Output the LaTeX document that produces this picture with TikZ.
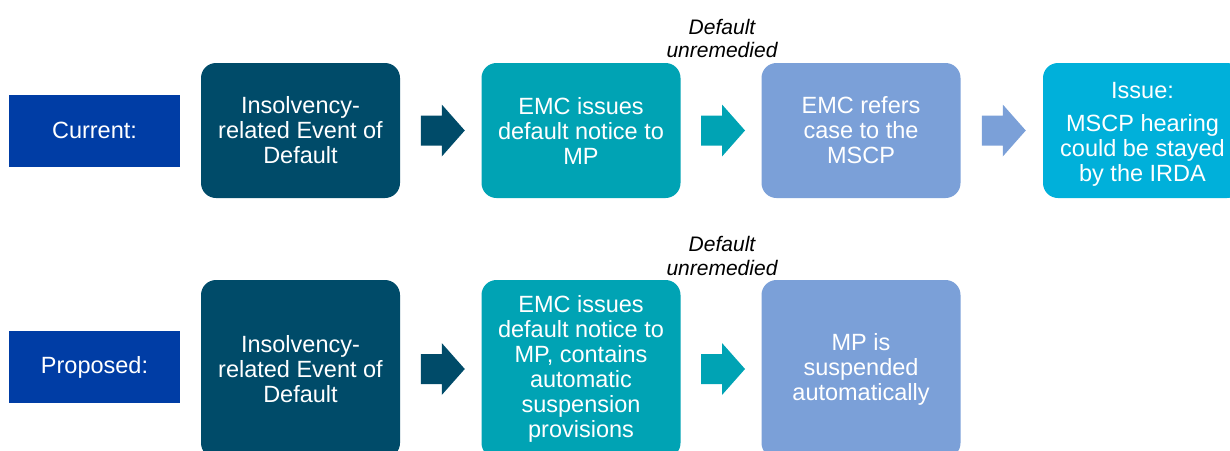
\documentclass[tikz,border=0pt]{standalone}
\usepackage{fontspec}
\setmainfont{Liberation Sans}
\usetikzlibrary{calc}

\definecolor{tagblue}{RGB}{0,61,165}
\definecolor{deepteal}{RGB}{0,75,105}
\definecolor{midteal}{RGB}{0,163,180}
\definecolor{softblue}{RGB}{123,160,216}
\definecolor{skyblue}{RGB}{0,176,218}

\begin{document}
\begin{tikzpicture}[x=1pt, y=1pt,
		box/.style={rounded corners=15pt, minimum width=199pt, inner sep=0pt,
			text=white, align=center, font=\fontsize{23.5}{25}\selectfont},
		tag/.style={minimum width=171pt, minimum height=72pt, inner sep=0pt,
			fill=tagblue, text=white, font=\fontsize{23.5}{25}\selectfont},
		note/.style={align=center, font=\fontsize{21}{23.5}\selectfont\itshape},
		blockarr/.pic={\fill[#1] (-22,-15) -- (-1,-15) -- (-1,-26) -- (22,0)
			-- (-1,26) -- (-1,15) -- (-22,15) -- cycle;}]
	\useasboundingbox (0,0) rectangle (1230,-450);

	\def\rowa{-130.5};
	\def\rowb{-369};

	% current process
	\begin{scope}[box/.append style={minimum height=135pt}]
		\node [tag] (cur) at (94.5,\rowa) {Current:};
		\node [box, fill=deepteal] (cur1) at (300.5,\rowa) {Insolvency-\\related Event of\\Default};
		\node [box, fill=midteal] (cur2) at (581,\rowa) {EMC issues\\default notice to\\MP};
		\node [box, fill=softblue] (cur3) at (861,\rowa) {EMC refers\\case to the\\MSCP};
		\node [box, fill=skyblue] (cur4) at (1142.5,\rowa) {\rule{0pt}{23pt}Issue:\\[8pt]MSCP hearing\\could be stayed\\by the IRDA};
		\node [note] (curnote) at (722,-38.5) {Default\\unremedied};
	\end{scope}

	% proposed process
	\begin{scope}[box/.append style={minimum height=178pt}]
		\node [tag] (prop) at (94.5,\rowb+2) {Proposed:};
		\node [box, fill=deepteal] (prop1) at (300.5,\rowb) {Insolvency-\\related Event of\\Default};
		\node [box, fill=midteal] (prop2) at (581,\rowb) {EMC issues\\default notice to\\MP, contains\\automatic\\suspension\\provisions};
		\node [box, fill=softblue] (prop3) at (861,\rowb) {MP is\\suspended\\automatically};
		\node [note] (propnote) at (722,-256) {Default\\unremedied};
	\end{scope}

	\foreach \a/\b/\c in {cur1/cur2/deepteal, cur2/cur3/midteal, cur3/cur4/softblue,
			prop1/prop2/deepteal, prop2/prop3/midteal}
		\path ($(\a.east)!0.5!(\b.west)+(2,0)$) pic {blockarr=\c};
\end{tikzpicture}
\end{document}
